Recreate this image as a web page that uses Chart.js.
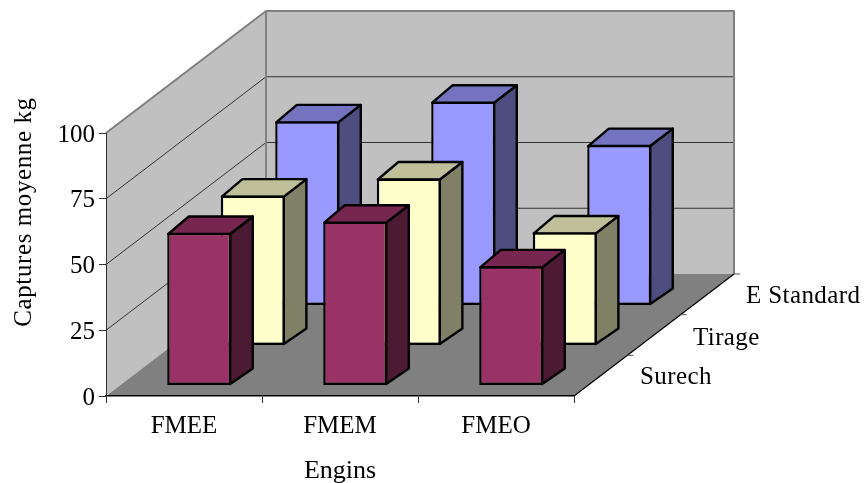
<!DOCTYPE html>
<html>
<head>
<meta charset="utf-8">
<style>
  html, body { margin: 0; padding: 0; background: #ffffff; }
  canvas { display: block; }
</style>
<script src="https://cdn.jsdelivr.net/npm/chart.js@4/dist/chart.umd.min.js"></script>
</head>
<body>
<canvas id="chart" width="864" height="483"></canvas>
<script>
// Engine categories and mean catches for each fishing method
const categories = ["FMEE", "FMEM", "FMEO"];
const seriesNames = ["Surech", "Tirage", "E Standard"];
const surech = [58, 62.3, 45.3];
const tirage = [57, 63.5, 43];
const eStandard = [70, 77.5, 61];
const yTicks = [0, 25, 50, 75, 100];

const FONT = '"Liberation Serif", "Times New Roman", serif';
const FONT_SIZE = 25;
const INK = "#000000";

// Oblique projection: the vector running from the front of the floor to the back wall
const DEPTH = { x: 160, y: -122 };
// Position of each series row along the depth vector, and the thickness of a bar
const ROW_X = [0.095, 0.43, 0.77];
const ROW_Y = [0.086, 0.414, 0.742];
const BAR_DEPTH = 0.135;
const BAR_LINE = 2.4;
// Side and top shades of each series' bars
const SIDE = ["#4d1a33", "#808066", "#4d4d80"];
const TOP = ["#772650", "#bfbf99", "#7373bf"];

function polygon(ctx, pts, fill, stroke, width) {
  ctx.beginPath();
  pts.forEach((p, i) => (i ? ctx.lineTo(p[0], p[1]) : ctx.moveTo(p[0], p[1])));
  ctx.closePath();
  if (fill) { ctx.fillStyle = fill; ctx.fill(); }
  if (stroke) { ctx.strokeStyle = stroke; ctx.lineWidth = width; ctx.stroke(); }
}

// Walls, floor, wall gridlines and the depth axis of the 3-D box
const boxPlugin = {
  id: "box3d",
  beforeDraw(chart) {
    const { ctx, scales: { x, y } } = chart;
    const l = x.left, r = x.right, b = y.getPixelForValue(0), t = y.getPixelForValue(100);
    const dx = DEPTH.x, dy = DEPTH.y;
    ctx.save();
    ctx.lineJoin = "round";
    polygon(ctx, [[l, b], [l + dx, b + dy], [l + dx, t + dy], [l, t]], "#c0c0c0");
    polygon(ctx, [[l + dx, b + dy], [r + dx, b + dy], [r + dx, t + dy], [l + dx, t + dy]], "#c0c0c0");
    polygon(ctx, [[l, b], [r, b], [r + dx, b + dy], [l + dx, b + dy]], "#808080");
    ctx.strokeStyle = "#333333";
    ctx.lineWidth = 1;
    yTicks.slice(1, -1).forEach(v => {
      const p = y.getPixelForValue(v);
      ctx.beginPath();
      ctx.moveTo(l, p);
      ctx.lineTo(l + dx, p + dy);
      ctx.lineTo(r + dx, p + dy);
      ctx.stroke();
    });
    ctx.strokeStyle = "#808080";
    ctx.lineWidth = 2;
    ctx.beginPath();
    ctx.moveTo(l, t);
    ctx.lineTo(l + dx, t + dy);
    ctx.lineTo(r + dx, t + dy);
    ctx.lineTo(r + dx, b + dy);
    ctx.moveTo(l + dx, t + dy);
    ctx.lineTo(l + dx, b + dy);
    ctx.stroke();
    // Depth axis along the right edge of the floor
    ctx.strokeStyle = INK;
    ctx.lineWidth = 1.2;
    ctx.beginPath();
    ctx.moveTo(r, b);
    ctx.lineTo(r + dx, b + dy);
    ctx.stroke();
    ctx.strokeStyle = "#555555";
    ctx.lineWidth = 1;
    ctx.beginPath();
    for (let i = 1; i <= seriesNames.length; i++) {
      const px = r + dx * i / seriesNames.length, py = b + dy * i / seriesNames.length;
      ctx.moveTo(px, py);
      ctx.lineTo(px + 6, py);
    }
    ctx.stroke();
    ctx.restore();
  },
  beforeDatasetDraw(chart, args) {
    const { ctx } = chart;
    const i = args.index;
    const ox = DEPTH.x * ROW_X[i], oy = DEPTH.y * ROW_Y[i];
    const bx = DEPTH.x * BAR_DEPTH, by = DEPTH.y * BAR_DEPTH;
    ctx.save();
    ctx.translate(ox, oy);
    ctx.lineJoin = "round";
    args.meta.data.forEach(bar => {
      const l = bar.x - bar.width / 2, r = bar.x + bar.width / 2;
      const top = bar.y, base = bar.base;
      polygon(ctx, [[r - 1, top + 1], [r + bx, top + by], [r + bx, base + by], [r - 1, base - 1]], SIDE[i], INK, BAR_LINE);
      polygon(ctx, [[l + 1, top + 1], [l + bx, top + by], [r + bx, top + by], [r - 1, top + 1]], TOP[i], INK, BAR_LINE);
    });
  },
  afterDatasetDraw(chart) {
    chart.ctx.restore();
  },
  afterDraw(chart) {
    const { ctx, scales: { x, y } } = chart;
    const b = y.getPixelForValue(0);
    ctx.save();
    ctx.font = FONT_SIZE + "px " + FONT;
    ctx.fillStyle = INK;
    ctx.textBaseline = "alphabetic";
    // Series names beside the depth axis
    const lift = [12, 51, 93];
    const shift = [66, 119, 172];
    ctx.letterSpacing = "0.4px";
    seriesNames.forEach((name, i) => {
      ctx.textAlign = "left";
      ctx.fillText(name, x.right + shift[i], b - lift[i]);
    });
    // Vertical axis title, centred on the height of the box's left wall
    ctx.letterSpacing = "0.6px";
    ctx.translate(31, 212);
    ctx.rotate(-Math.PI / 2);
    ctx.textAlign = "center";
    ctx.fillText("Captures moyenne kg", 0, 0);
    ctx.restore();
  }
};

new Chart(document.getElementById("chart"), {
  type: "bar",
  data: {
    labels: categories,
    datasets: [surech, tirage, eStandard].map((values, i) => ({
      label: seriesNames[i],
      data: values,
      backgroundColor: ["#993366", "#ffffcc", "#9999ff"][i],
      borderColor: INK,
      borderWidth: 2.4,
      borderSkipped: false,
      clip: false
    }))
  },
  options: {
    responsive: false,
    animation: false,
    devicePixelRatio: 1,
    grouped: false,
    barPercentage: 0.41,
    categoryPercentage: 1,
    layout: { padding: { left: 0, right: 290, top: 133, bottom: 0 } },
    plugins: { legend: { display: false }, tooltip: { enabled: false } },
    scales: {
      x: {
        afterFit(s) { s.height = 87; },
        grid: { drawOnChartArea: false, color: "#333333", tickLength: 7, offset: true },
        border: { color: INK, width: 1.5 },
        ticks: { color: INK, font: { family: FONT, size: FONT_SIZE }, padding: 8, maxRotation: 0 },
        title: {
          display: true,
          text: "Engins",
          color: INK,
          font: { family: FONT, size: 26, lineHeight: 0.9 },
          padding: { top: 9, bottom: 0 }
        }
      },
      y: {
        min: 0,
        max: 100,
        afterFit(s) { s.width = 106; },
        afterBuildTicks(s) { s.ticks = yTicks.map(v => ({ value: v })); },
        grid: { drawOnChartArea: false, color: "#333333", tickLength: 7 },
        border: { color: "#333333", width: 1 },
        ticks: { color: INK, font: { family: FONT, size: FONT_SIZE }, padding: 4, labelOffset: 2 }
      }
    }
  },
  plugins: [boxPlugin]
});
</script>
</body>
</html>
